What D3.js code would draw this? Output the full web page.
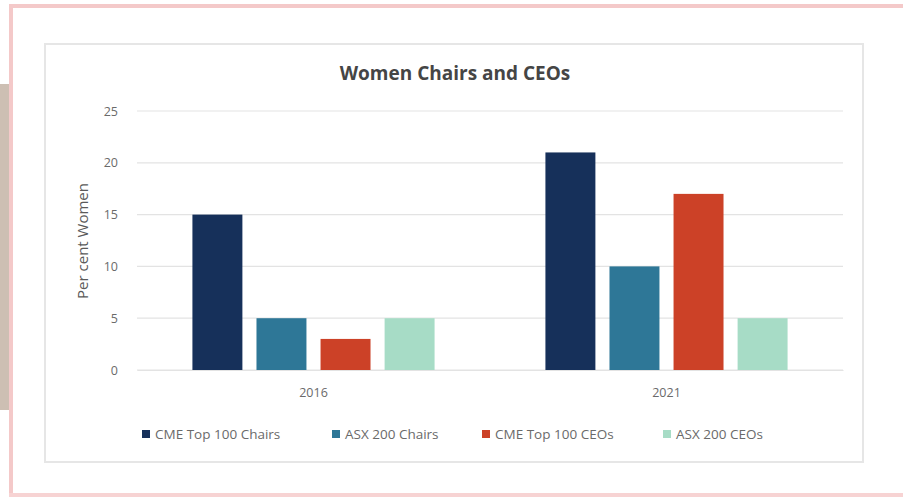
<!DOCTYPE html>
<html>
<head>
<meta charset="utf-8">
<script src="https://cdn.jsdelivr.net/npm/d3@7"></script>
<style>
  body { margin: 0; background: #fff; }
  svg { display: block; font-family: "Open Sans", Lato, sans-serif; }
</style>
</head>
<body>
<svg id="chart" width="903" height="497"></svg>
<script>
// chart values
var years = ["2016", "2021"];
var seriesNames = ["CME Top 100 Chairs", "ASX 200 Chairs", "CME Top 100 CEOs", "ASX 200 CEOs"];
var cmeChairs = [15, 21];
var asxChairs = [5, 10];
var cmeCeos = [3, 17];
var asxCeos = [5, 5];
var yTicks = [0, 5, 10, 15, 20, 25];

var colors = ["#16305a", "#2e7797", "#cc4127", "#a7dcc6"];
var seriesValues = [cmeChairs, asxChairs, cmeCeos, asxCeos];

var svg = d3.select("#chart");

// page decoration: tan strip + pink frame
svg.append("rect").attr("x", 0).attr("y", 84).attr("width", 9).attr("height", 326).attr("fill", "#cdbfb3");
svg.append("rect").attr("x", 9).attr("y", 4).attr("width", 4).attr("height", 493).attr("fill", "#f4c9c9");
svg.append("rect").attr("x", 9).attr("y", 4).attr("width", 894).attr("height", 4).attr("fill", "#f4c9c9");
svg.append("rect").attr("x", 9).attr("y", 493).attr("width", 894).attr("height", 4).attr("fill", "#f7d3d3");

// excel chart box
svg.append("rect")
    .attr("x", 45).attr("y", 44).attr("width", 818).attr("height", 418)
    .attr("fill", "#fff")
    .attr("stroke", "#e6e6e6")
    .attr("stroke-width", 2);

var margin = {left: 137, right: 843, top: 111, bottom: 370};

var x0 = d3.scaleBand()
    .domain(years)
    .range([margin.left, margin.right])
    .paddingInner(0.314)
    .paddingOuter(0.157);

var x1 = d3.scaleBand()
    .domain(seriesNames)
    .range([0, x0.bandwidth()])
    .paddingInner(0.22);

var y = d3.scaleLinear()
    .domain([0, 25])
    .range([margin.bottom, margin.top]);

// gridlines
svg.append("g")
    .selectAll("line")
    .data(yTicks)
    .enter()
    .append("line")
    .attr("x1", margin.left)
    .attr("x2", margin.right)
    .attr("y1", function(d) { return y(d); })
    .attr("y2", function(d) { return y(d); })
    .attr("stroke", "#e3e3e3")
    .attr("stroke-width", 1.2);

// y tick labels
var yAxis = svg.append("g")
    .attr("transform", "translate(" + margin.left + ",0)")
    .call(d3.axisLeft(y).tickValues(yTicks).tickSize(0).tickPadding(19));
yAxis.select(".domain").remove();
yAxis.selectAll("text")
    .attr("font-size", "12.5px")
    .attr("font-family", "'Open Sans', sans-serif")
    .attr("fill", "#6a6a6a");

// x labels
var xAxis = svg.append("g")
    .attr("transform", "translate(0," + margin.bottom + ")")
    .call(d3.axisBottom(x0).tickSize(0).tickPadding(18));
xAxis.select(".domain").attr("stroke", "#e3e3e3");
xAxis.selectAll("text")
    .attr("font-size", "12.5px")
    .attr("font-family", "'Open Sans', sans-serif")
    .attr("fill", "#6a6a6a");

// bars
var groups = svg.append("g")
    .selectAll("g")
    .data(years)
    .enter()
    .append("g")
    .attr("transform", function(d) { return "translate(" + x0(d) + ",0)"; });

groups.selectAll("rect")
    .data(function(d, i) {
        return seriesNames.map(function(s, j) {
            return {name: s, value: seriesValues[j][i], color: colors[j]};
        });
    })
    .enter()
    .append("rect")
    .attr("x", function(d) { return x1(d.name); })
    .attr("y", function(d) { return y(d.value); })
    .attr("width", x1.bandwidth())
    .attr("height", function(d) { return y(0) - y(d.value); })
    .attr("fill", function(d) { return d.color; });

// title
svg.append("text")
    .attr("x", 455)
    .attr("y", 80)
    .attr("text-anchor", "middle")
    .attr("font-size", "19px")
    .attr("font-weight", "bold")
    .attr("fill", "#454545")
    .text("Women Chairs and CEOs");

// y axis title
svg.append("text")
    .attr("transform", "translate(88,241) rotate(-90)")
    .attr("text-anchor", "middle")
    .attr("font-size", "15px")
    .attr("fill", "#5a5a5a")
    .text("Per cent Women");

// legend
var legendX = [142, 332, 482, 663];
var legend = svg.append("g")
    .selectAll("g")
    .data(seriesNames)
    .enter()
    .append("g")
    .attr("transform", function(d, i) { return "translate(" + legendX[i] + ",434)"; });

legend.append("rect")
    .attr("x", 0)
    .attr("y", -4)
    .attr("width", 8)
    .attr("height", 8)
    .attr("fill", function(d, i) { return colors[i]; });

legend.append("text")
    .attr("x", 13)
    .attr("y", 5)
    .attr("font-size", "13.5px")
    .attr("fill", "#6a6a6a")
    .text(function(d) { return d; });
</script>
</body>
</html>
